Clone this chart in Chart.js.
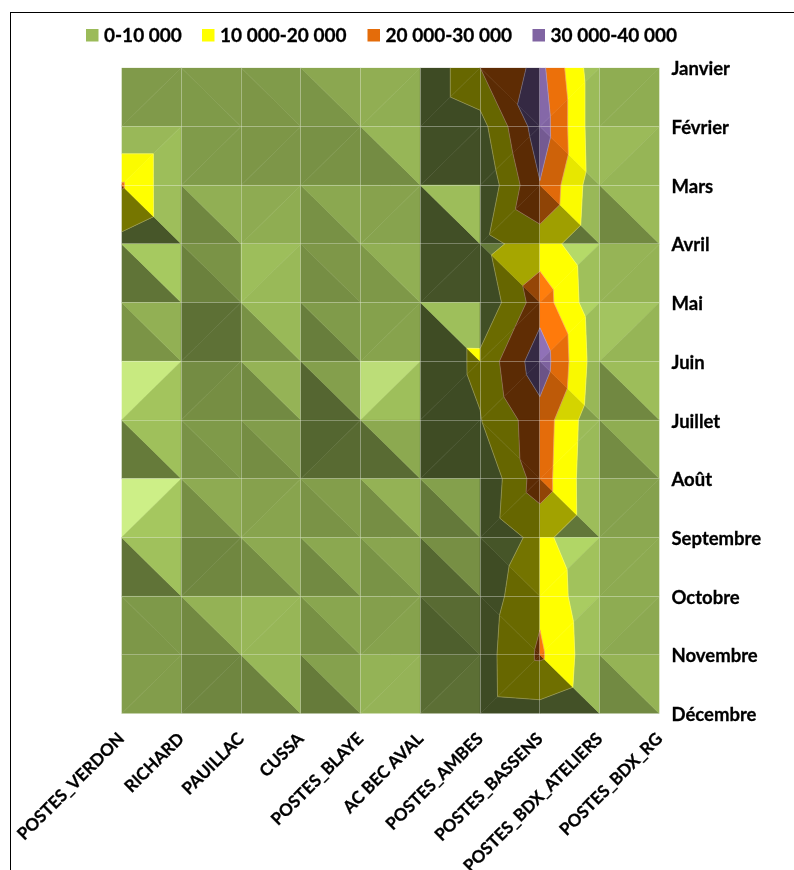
<!doctype html>
<html lang="fr">

<head>
  <meta charset="utf-8" />
  <title>Surface postes / mois</title>
  <script src="https://cdn.jsdelivr.net/npm/chart.js@4.4.1/dist/chart.umd.min.js"></script>
  <style>
    body {
      margin: 0;
      background: #fff;
    }

    #frame {
      position: absolute;
      left: 10px;
      top: 12px;
      width: 784px;
      height: 858px;
      border-left: 1px solid #000;
      border-top: 1px solid #000;
      box-sizing: border-box;
    }

    #surface {
      position: absolute;
      left: 0;
      top: 0;
    }
  </style>
</head>

<body>
  <canvas id="surface" width="794" height="870"></canvas>
  <div id="frame"></div>

  <script>
    const months = ["Janvier", "Février", "Mars", "Avril", "Mai", "Juin", "Juillet", "Août", "Septembre", "Octobre", "Novembre", "Décembre"];
    const stations = ["POSTES_VERDON", "RICHARD", "PAUILLAC", "CUSSA", "POSTES_BLAYE", "AC BEC AVAL", "POSTES_AMBES", "POSTES_BASSENS", "POSTES_BDX_ATELIERS", "POSTES_BDX_RG"];

    // one list per station, January to December
    const postesVerdon = [400, 360, 21000, 7200, 3100, 1600, 3700, 1300, 3800, 1600, 1300, 1350];
    const richard = [400, 360, 380, 500, 900, 300, 575, 540, 1270, 1500, 1250, 800];
    const pauillac = [400, 400, 400, 1600, 2500, 1275, 790, 950, 2500, 1050, 1900, 900];
    const cussa = [525, 650, 575, 500, 525, 550, 1200, 1800, 900, 300, 700, 1200];
    const postesBlaye = [450, 1075, 400, 925, 1200, 2000, 4500, 1000, 400, 600, 1600, 3200];
    const acBecAval = [0, 0, 500, 700, 1600, 1590, 1500, 100, 500, 1200, 1750, 3300];
    const postesAmbes = [20000, 6200, 800, 6400, 1400, 12400, 9500, 1000, 2500, 4500, 5500, 5300];
    const postesBassens = [33000, 36000, 29500, 15200, 25500, 36000, 26000, 25300, 12900, 18000, 21500, 6420];
    const postesBdxAteliers = [1500, 1500, 2300, 900, 1800, 3000, 1100, 200, 400, 1050, 1790, 600];
    const postesBdxRg = [500, 500, 300, 400, 800, 200, 100, 100, 200, 850, 300, 300];
    const columns = [postesVerdon, richard, pauillac, cussa, postesBlaye, acBecAval, postesAmbes, postesBassens, postesBdxAteliers, postesBdxRg];

    const bandEdges = [0, 10000, 20000, 30000, 40000];
    const bandLabels = ["0-10 000", "10 000-20 000", "20 000-30 000", "30 000-40 000"];
    const bandColors = [[155, 187, 89], [255, 255, 0], [228, 108, 10], [128, 100, 162]];

    const labelFont = "Lato";

    // cut a triangle down to the part lying between two z levels
    const clipBand = (poly, lo, hi) => {
      const cut = (pts, level, keepAbove) => {
        const out = [];
        pts.forEach((a, i) => {
          const b = pts[(i + 1) % pts.length];
          const aIn = keepAbove ? a.z >= level : a.z <= level;
          const bIn = keepAbove ? b.z >= level : b.z <= level;
          if (aIn) out.push(a);
          if (aIn !== bIn) {
            const t = (level - a.z) / (b.z - a.z);
            out.push({ x: a.x + (b.x - a.x) * t, y: a.y + (b.y - a.y) * t, z: level });
          }
        });
        return out;
      };
      return cut(cut(poly, lo, true), hi, false);
    };

    // facet lighting, gradients are in z per grid step
    const facetShade = (a, b, c) => {
      const ux = b.x - a.x, uy = b.y - a.y, uz = (b.z - a.z) / 10000;
      const vx = c.x - a.x, vy = c.y - a.y, vz = (c.z - a.z) / 10000;
      const det = ux * vy - uy * vx;
      const zc = (uz * vy - uy * vz) / det;
      const zr = (ux * vz - uz * vx) / det;
      const k = 2.5;
      const len = Math.sqrt(1 + k * k * (zc * zc + zr * zr));
      const nx = -k * zc / len, ny = -k * zr / len, nz = 1 / len;
      // ambient floor of 0.4 with a soft knee above it
      const s = 0.15 + 0.42 * nx - 0.39 * ny + 0.28 * nz;
      const lifted = s >= 0.08 ? s : 0.08 * Math.exp((s - 0.08) / 0.08);
      const dot = (0.25 * nx - 0.625 * ny + nz) / 1.205;
      const spec = dot > 0 ? 0.17 * Math.pow(dot, 60) : 0;
      return { diffuse: 0.4 + lifted, spec };
    };

    const lit = (rgb, s) => {
      const ch = rgb.map(v => Math.min(255, Math.round(v * s.diffuse + 255 * s.spec)));
      return `rgb(${ch[0]},${ch[1]},${ch[2]})`;
    };

    const surfacePlugin = {
      id: "surface",
      beforeDatasetsDraw(chart) {
        const { ctx, scales: { x, y } } = chart;
        const node = (c, r) => ({ x: c, y: r, z: columns[c][r] });
        const tracePath = pts => {
          ctx.beginPath();
          pts.forEach((p, i) => {
            const px = x.getPixelForValue(p.x), py = y.getPixelForValue(p.y);
            if (i === 0) ctx.moveTo(px, py); else ctx.lineTo(px, py);
          });
        };
        const drawFacet = tri => {
          const shade = facetShade(tri[0], tri[1], tri[2]);
          bandColors.forEach((rgb, i) => {
            const part = clipBand(tri, bandEdges[i], bandEdges[i + 1]);
            if (part.length < 3) return;
            tracePath(part);
            ctx.closePath();
            ctx.fillStyle = ctx.strokeStyle = lit(rgb, shade);
            ctx.lineWidth = 0.5;
            ctx.fill();
            ctx.stroke();
          });
        };
        const drawContours = tri => {
          bandEdges.slice(1, -1).forEach(level => {
            const hits = [];
            tri.forEach((a, i) => {
              const b = tri[(i + 1) % 3];
              if ((a.z < level) !== (b.z < level)) {
                const t = (level - a.z) / (b.z - a.z);
                hits.push({ x: a.x + (b.x - a.x) * t, y: a.y + (b.y - a.y) * t });
              }
            });
            if (hits.length === 2) {
              tracePath(hits);
              ctx.strokeStyle = "rgba(255,255,255,0.3)";
              ctx.lineWidth = 0.8;
              ctx.stroke();
            }
          });
        };
        const facets = [];
        for (let c = 0; c < columns.length - 1; c++) {
          for (let r = 0; r < months.length - 1; r++) {
            const tl = node(c, r), tr = node(c + 1, r), bl = node(c, r + 1), br = node(c + 1, r + 1);
            // the cell folds along the diagonal with the larger sum
            if (tl.z + br.z > tr.z + bl.z) facets.push([tl, bl, br], [tl, tr, br]);
            else facets.push([tl, tr, bl], [tr, bl, br]);
          }
        }
        ctx.save();
        ctx.beginPath();
        ctx.rect(chart.chartArea.left, chart.chartArea.top, chart.chartArea.width, chart.chartArea.height);
        ctx.clip();
        facets.forEach(drawFacet);
        facets.forEach(drawContours);
        ctx.restore();
      },
      afterDraw(chart) {
        // legend row above the plot
        const { ctx } = chart;
        const swatchX = [86, 202, 367.5, 532.5];
        ctx.save();
        ctx.font = `bold 19px ${labelFont}`;
        ctx.textBaseline = "middle";
        ctx.textAlign = "left";
        ctx.lineWidth = 0.3;
        ctx.strokeStyle = "#000";
        bandLabels.forEach((label, i) => {
          const c = bandColors[i];
          ctx.fillStyle = `rgb(${c[0]},${c[1]},${c[2]})`;
          ctx.fillRect(swatchX[i], 29, 12.5, 12.5);
          ctx.fillStyle = "#000";
          ctx.fillText(label, swatchX[i] + 18, 35.5);
          ctx.strokeText(label, swatchX[i] + 18, 35.5);
        });
        ctx.restore();
      }
    };

    new Chart(document.getElementById("surface"), {
      type: "scatter",
      plugins: [surfacePlugin],
      data: {
        datasets: [{
          data: columns.flatMap((col, c) => col.map((v, r) => ({ x: c, y: r, z: v }))),
          pointRadius: 0
        }]
      },
      options: {
        responsive: false,
        animation: false,
        layout: { padding: { left: 121.5, top: 67.7, right: 0, bottom: 0 } },
        plugins: { legend: { display: false }, tooltip: { enabled: false } },
        scales: {
          x: {
            type: "linear",
            min: 0,
            max: columns.length - 1,
            grid: { z: 1, color: "rgba(255,255,255,0.3)", drawTicks: false },
            border: { display: false },
            ticks: {
              stepSize: 1,
              autoSkip: false,
              maxRotation: 45,
              minRotation: 45,
              padding: 15,
              color: "#000",
              textStrokeColor: "#000",
              textStrokeWidth: 0.3,
              font: { family: labelFont, weight: "bold", size: 17 },
              callback: v => stations[v]
            },
            afterFit(scale) {
              scale.height = 156.3;
              scale.paddingLeft = scale.paddingRight = 0;
            }
          },
          y: {
            type: "linear",
            reverse: true,
            position: "right",
            min: 0,
            max: months.length - 1,
            grid: { z: 1, color: "rgba(255,255,255,0.3)", drawTicks: false },
            border: { display: false },
            ticks: {
              stepSize: 1,
              autoSkip: false,
              padding: 12,
              labelOffset: 1.5,
              color: "#000",
              textStrokeColor: "#000",
              textStrokeWidth: 0.3,
              font: { family: labelFont, weight: "bold", size: 18.5 },
              callback: v => months[v]
            },
            afterFit(scale) {
              scale.width = 134.5;
              scale.paddingTop = scale.paddingBottom = 0;
            }
          }
        }
      }
    });
  </script>
</body>

</html>
